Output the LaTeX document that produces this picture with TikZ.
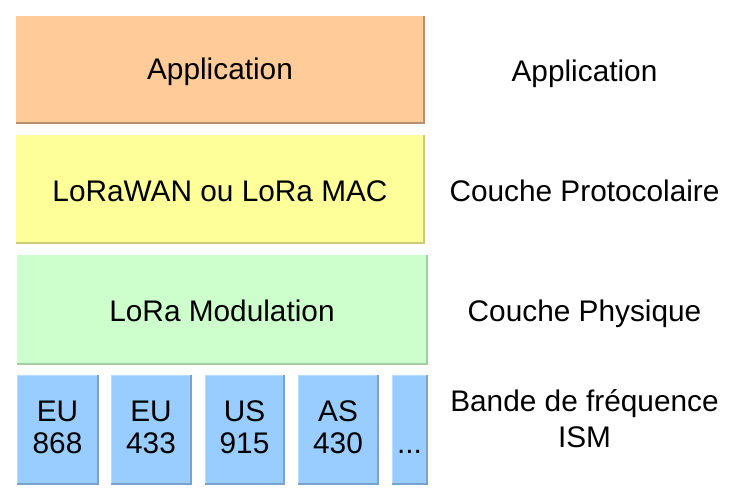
\documentclass[tikz,border=0pt]{standalone}
\usepackage{fontspec}
\setmainfont{Liberation Sans}
\definecolor{appfill}{HTML}{FFCC99}
\definecolor{appedge}{HTML}{B89070}
\definecolor{macfill}{HTML}{FFFF99}
\definecolor{macedge}{HTML}{CCCC7A}
\definecolor{phyfill}{HTML}{CCFFCC}
\definecolor{phyedge}{HTML}{A3CCA3}
\definecolor{bandfill}{HTML}{99CCFF}
\definecolor{bandedge}{HTML}{7AA3CC}
\definecolor{bandlight}{HTML}{B8DCFF}
\newcommand{\lowstrut}{\rule[-5pt]{0pt}{5pt}}
\tikzset{
  every node/.style={font=\fontsize{29.8}{37}\selectfont, text=black},
  layer/.style={anchor=north west, inner sep=0pt, outer sep=0pt, minimum height=107pt, align=center, text height=22.3pt, text depth=2.4pt},
  band/.style={anchor=north west, inner sep=0pt, outer sep=0pt, minimum height=109pt, align=center, font=\fontsize{29.8}{31.6}\selectfont},
  lbl/.style={anchor=center, align=center, text height=22.3pt, text depth=2.4pt},
  edgeline/.style={line width=1.5pt}
}
\begin{document}
\begin{tikzpicture}[x=1pt,y=-1pt]
\useasboundingbox (0,0) rectangle (738,500);
% layers
\node[layer, fill=appfill, minimum width=408pt] (app) at (16,16) {Application};
\node[layer, fill=macfill, minimum width=408pt, minimum height=108pt, text height=27.5pt] (mac) at (16,135) {LoRaWAN ou LoRa MAC};
\node[layer, fill=phyfill, minimum width=410pt, minimum height=109pt, text height=26.8pt] (phy) at (17,255) {LoRa Modulation};
% bands
\node[band, fill=bandfill, minimum width=81pt] (b1) at (17,375) {EU\\868\lowstrut};
\node[band, fill=bandfill, minimum width=80pt] (b2) at (111,375) {EU\\433\lowstrut};
\node[band, fill=bandfill, minimum width=79pt] (b3) at (205,375) {US\\915\lowstrut};
\node[band, fill=bandfill, minimum width=80pt] (b4) at (298,375) {AS\\430\lowstrut};
\node[band, fill=bandfill, minimum width=35pt] (b5) at (392,375) {\phantom{E}\\...\lowstrut};
% shadow edges
\draw[edgeline, appedge] (app.north east) -- (app.south east) -- (app.south west);
\draw[edgeline, macedge] (mac.north east) -- (mac.south east) -- (mac.south west);
\draw[edgeline, phyedge] (phy.north east) -- (phy.south east) -- (phy.south west);
\foreach \b in {b1,b2,b3,b4,b5}{
  \draw[line width=1pt, bandlight] (\b.south west) -- (\b.north west) -- (\b.north east);
  \draw[edgeline, bandedge] (\b.north east) -- (\b.south east) -- (\b.south west);
}
% right labels
\node[lbl] (lapp) at (584.5,71.8) {Application};
\node[lbl] (lmac) at (584.5,191.8) {Couche Protocolaire};
\node[lbl] (lphy) at (584.5,311.8) {Couche Physique};
\node[anchor=center, align=center, font=\fontsize{29.8}{36.3}\selectfont] (lband) at (584.5,418.7) {Bande de fréquence\\ISM};
\end{tikzpicture}
\end{document}
